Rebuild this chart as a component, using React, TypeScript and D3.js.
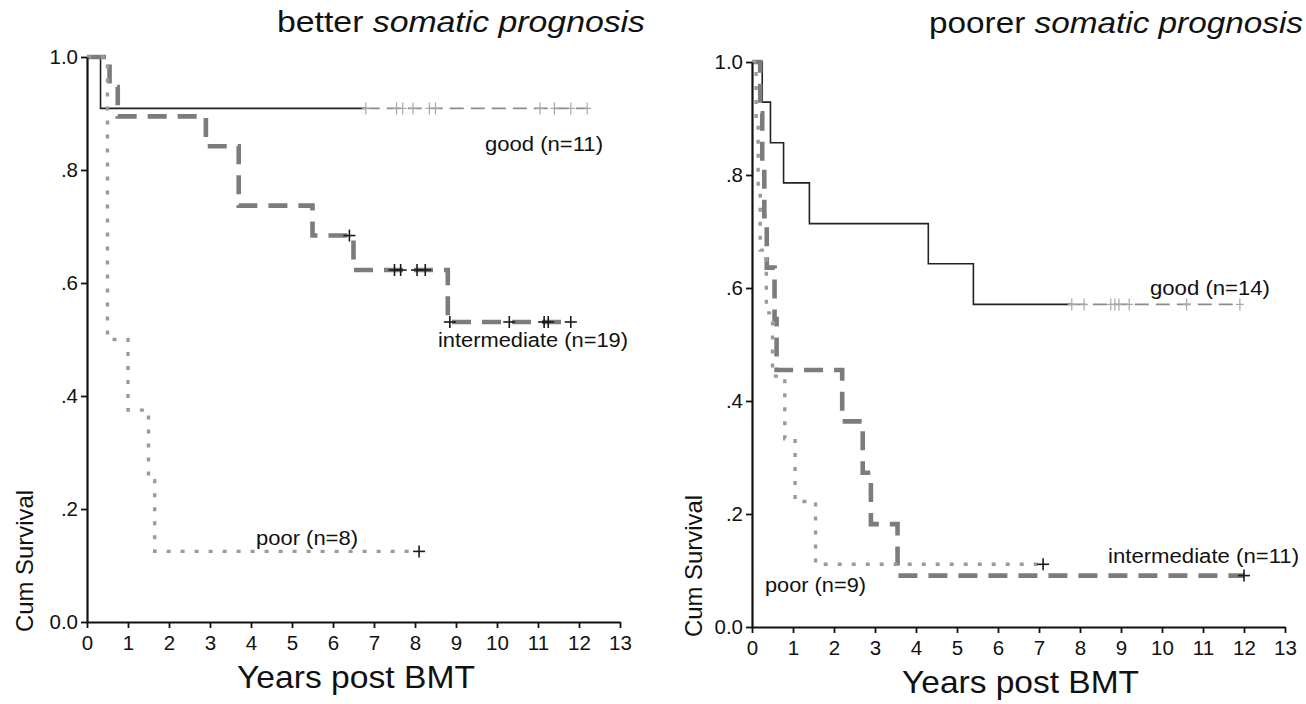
import React, { useEffect, useRef } from 'react';
import * as d3 from 'd3';

const FONT = '"Liberation Sans", Arial, Helvetica, sans-serif';

// ---- shared axis data ----
const xTicks = [0, 1, 2, 3, 4, 5, 6, 7, 8, 9, 10, 11, 12, 13];
const yTicks = [0, 0.2, 0.4, 0.6, 0.8, 1.0];
const xAxisTitle = 'Years post BMT';
const yAxisTitle = 'Cum Survival';

// ---- left panel: better somatic prognosis ----
const betterTitlePlain = 'better ';
const betterTitleItalic = 'somatic prognosis';
const betterLabels = ['good (n=11)', 'intermediate (n=19)', 'poor (n=8)'];

const betterGoodTimes = [0, 0.33, 12.2];
const betterGoodSurv = [1, 0.909, 0.909];
const betterGoodCensor = [6.8, 7.55, 7.7, 7.95, 8.35, 8.5, 11.05, 11.4, 11.8, 12.2];

const betterInterTimes = [0, 0.55, 0.75, 2.9, 3.7, 5.5, 6.5, 8.8, 11.8];
const betterInterSurv = [1, 0.947, 0.895, 0.842, 0.737, 0.684, 0.623, 0.531, 0.531];
const betterInterCensor = [6.4, 7.5, 7.65, 8.05, 8.25, 8.85, 10.3, 11.15, 11.25, 11.8];

const betterPoorTimes = [0, 0.5, 1.0, 1.5, 1.65, 8.1];
const betterPoorSurv = [1, 0.5, 0.375, 0.25, 0.125, 0.125];
const betterPoorCensor = [8.1];

// ---- right panel: poorer somatic prognosis ----
const poorerTitlePlain = 'poorer ';
const poorerTitleItalic = 'somatic prognosis';
const poorerLabels = ['good (n=14)', 'intermediate (n=11)', 'poor (n=9)'];

const poorerGoodTimes = [0, 0.25, 0.45, 0.77, 1.4, 4.3, 5.4, 11.9];
const poorerGoodSurv = [1, 0.929, 0.857, 0.786, 0.714, 0.643, 0.571, 0.571];
const poorerGoodCensor = [7.8, 8.1, 8.75, 8.85, 8.95, 9.2, 10.6, 11.9];

const poorerInterTimes = [0, 0.2, 0.25, 0.3, 0.36, 0.55, 0.6, 2.2, 2.7, 2.9, 3.55, 12.0];
const poorerInterSurv = [1, 0.909, 0.818, 0.727, 0.636, 0.545, 0.455, 0.364, 0.273, 0.182, 0.091, 0.091];
const poorerInterCensor = [12.0];

const poorerPoorTimes = [0, 0.1, 0.15, 0.2, 0.35, 0.5, 0.8, 1.05, 1.55, 7.1];
const poorerPoorSurv = [1, 0.889, 0.778, 0.667, 0.556, 0.444, 0.333, 0.222, 0.111, 0.111];
const poorerPoorCensor = [7.1];

type Kind = 'good' | 'inter' | 'poor';
interface Series { times: number[]; surv: number[]; censor: number[]; kind: Kind; }

function survAt(times: number[], surv: number[], t: number) {
  let s = surv[0];
  for (let i = 0; i < times.length; i++) if (times[i] <= t) s = surv[i];
  return s;
}

interface LabelPos { x: number; y: number; w: number; }

interface PanelProps {
  xPx: [number, number];
  yPx: [number, number];
  series: Series[];
  labels: string[];
  labelPos: LabelPos[];
  titlePlain: string;
  titleItalic: string;
  titlePos: LabelPos;
  xTitlePos: LabelPos;
  yTitlePos: LabelPos;
  yPad: number;
}

function Panel(p: PanelProps) {
  const x = d3.scaleLinear().domain([0, 13]).range(p.xPx);
  const y = d3.scaleLinear().domain([0, 1]).range(p.yPx);
  const gx = useRef<SVGGElement>(null);
  const gy = useRef<SVGGElement>(null);

  useEffect(() => {
    const ax = d3.axisBottom(x).tickValues(xTicks).tickSize(6).tickSizeOuter(0).tickPadding(7)
      .tickFormat((d) => d3.format('d')(d as number));
    const g = d3.select(gx.current!);
    g.call(ax as any);
    g.attr('font-size', null).attr('font-family', null);
    g.select('.domain').attr('stroke-width', 2.2).attr('stroke', '#111');
    g.selectAll('.tick line').attr('stroke-width', 1.8).attr('stroke', '#111');
    g.selectAll('.tick text').attr('fill', '#111').style('font-size', '20.5px').style('font-family', FONT);

    const ay = d3.axisLeft(y).tickValues(yTicks).tickSize(6).tickSizeOuter(0).tickPadding(p.yPad)
      .tickFormat((d) => {
        const v = d as number;
        if (v === 0) return '0.0';
        if (v === 1) return '1.0';
        return d3.format('.1f')(v).replace(/^0/, '');
      });
    const h = d3.select(gy.current!);
    h.call(ay as any);
    h.attr('font-size', null).attr('font-family', null);
    h.select('.domain').attr('stroke-width', 2.2).attr('stroke', '#111');
    h.selectAll('.tick line').attr('stroke-width', 1.8).attr('stroke', '#111');
    h.selectAll('.tick text').attr('fill', '#111').style('font-size', '20.5px').style('font-family', FONT);
  }, []);

  const line = d3.line<[number, number]>().x((d) => x(d[0])).y((d) => y(d[1])).curve(d3.curveStepAfter);

  const drawSeries = (s: Series, i: number) => {
    const pts: [number, number][] = s.times.map((t, k) => [t, s.surv[k]]);
    const marks = s.censor.map((c, k) => {
      const cx = x(c);
      const cy = y(survAt(s.times, s.surv, c));
      const col = s.kind === 'good' ? '#a8a8a8' : '#1a1a1a';
      const hw = s.kind === 'good' ? 4 : 6;
      const hh = 6;
      return (
        <g key={'c' + k} stroke={col} strokeWidth={s.kind === 'good' ? 1.2 : 1.6}>
          <line x1={cx - hw} x2={cx + hw} y1={cy} y2={cy} />
          <line x1={cx} x2={cx} y1={cy - hh} y2={cy + hh} />
        </g>
      );
    });
    if (s.kind === 'good') {
      const c0 = s.censor[0];
      const head: [number, number][] = pts.filter((d) => d[0] < c0);
      head.push([c0, survAt(s.times, s.surv, c0)]);
      const tail: [number, number][] = [[c0, survAt(s.times, s.surv, c0)], ...pts.filter((d) => d[0] > c0)];
      return (
        <g key={i}>
          <path d={line(head)!} fill="none" stroke="#222" strokeWidth={1.6} />
          <path d={line(tail)!} fill="none" stroke="#8c8c8c" strokeWidth={1.6} strokeDasharray="14,7" />
          {marks}
        </g>
      );
    }
    if (s.kind === 'inter') {
      return (
        <g key={i}>
          <path d={line(pts)!} fill="none" stroke="#7c7c7c" strokeWidth={4.6} strokeDasharray="19,11" />
          {marks}
        </g>
      );
    }
    return (
      <g key={i}>
        <path d={line(pts)!} fill="none" stroke="#9a9a9a" strokeWidth={3.4} strokeDasharray="4,10" />
        {marks}
      </g>
    );
  };

  const tp = p.titlePos;
  return (
    <g>
      <text x={tp.x} y={tp.y} fontFamily={FONT} fontSize={29} fill="#111" textLength={tp.w} lengthAdjust="spacingAndGlyphs">
        <tspan>{p.titlePlain}</tspan>
        <tspan fontStyle="italic">{p.titleItalic}</tspan>
      </text>
      {p.series.map(drawSeries)}
      <g ref={gx} transform={`translate(0,${p.yPx[0]})`} />
      <g ref={gy} transform={`translate(${p.xPx[0]},0)`} />
      {p.labels.map((t, i) => (
        <text key={t} x={p.labelPos[i].x} y={p.labelPos[i].y} fontFamily={FONT} fontSize={20} fill="#111"
          textLength={p.labelPos[i].w} lengthAdjust="spacingAndGlyphs">{t}</text>
      ))}
      <text x={p.xTitlePos.x} y={p.xTitlePos.y} fontFamily={FONT} fontSize={32} fill="#111"
        textLength={p.xTitlePos.w} lengthAdjust="spacingAndGlyphs">{xAxisTitle}</text>
      <text transform={`translate(${p.yTitlePos.x},${p.yTitlePos.y}) rotate(-90)`} fontFamily={FONT} fontSize={24} fill="#111"
        textLength={p.yTitlePos.w} lengthAdjust="spacingAndGlyphs">{yAxisTitle}</text>
    </g>
  );
}

export default function App() {
  const betterSeries: Series[] = [
    { times: betterGoodTimes, surv: betterGoodSurv, censor: betterGoodCensor, kind: 'good' },
    { times: betterInterTimes, surv: betterInterSurv, censor: betterInterCensor, kind: 'inter' },
    { times: betterPoorTimes, surv: betterPoorSurv, censor: betterPoorCensor, kind: 'poor' },
  ];
  const poorerSeries: Series[] = [
    { times: poorerGoodTimes, surv: poorerGoodSurv, censor: poorerGoodCensor, kind: 'good' },
    { times: poorerInterTimes, surv: poorerInterSurv, censor: poorerInterCensor, kind: 'inter' },
    { times: poorerPoorTimes, surv: poorerPoorSurv, censor: poorerPoorCensor, kind: 'poor' },
  ];
  return (
    <svg width={1306} height={704} style={{ position: 'absolute', left: 0, top: 0, background: '#fff', display: 'block' }}>
      <Panel
        xPx={[87, 620]}
        yPx={[622, 57]}
        series={betterSeries}
        labels={betterLabels}
        labelPos={[{ x: 485, y: 151, w: 118 }, { x: 438, y: 347, w: 190 }, { x: 256, y: 545, w: 102 }]}
        titlePlain={betterTitlePlain}
        titleItalic={betterTitleItalic}
        titlePos={{ x: 277, y: 32, w: 368 }}
        xTitlePos={{ x: 237, y: 688, w: 238 }}
        yTitlePos={{ x: 33, y: 632, w: 142 }}
        yPad={3}
      />
      <Panel
        xPx={[752, 1285]}
        yPx={[627, 62]}
        series={poorerSeries}
        labels={poorerLabels}
        labelPos={[{ x: 1150, y: 295, w: 120 }, { x: 1108, y: 563, w: 191 }, { x: 765, y: 592, w: 101 }]}
        titlePlain={poorerTitlePlain}
        titleItalic={poorerTitleItalic}
        titlePos={{ x: 929, y: 33, w: 374 }}
        xTitlePos={{ x: 902, y: 693, w: 237 }}
        yTitlePos={{ x: 702, y: 637, w: 142 }}
        yPad={3}
      />
    </svg>
  );
}
